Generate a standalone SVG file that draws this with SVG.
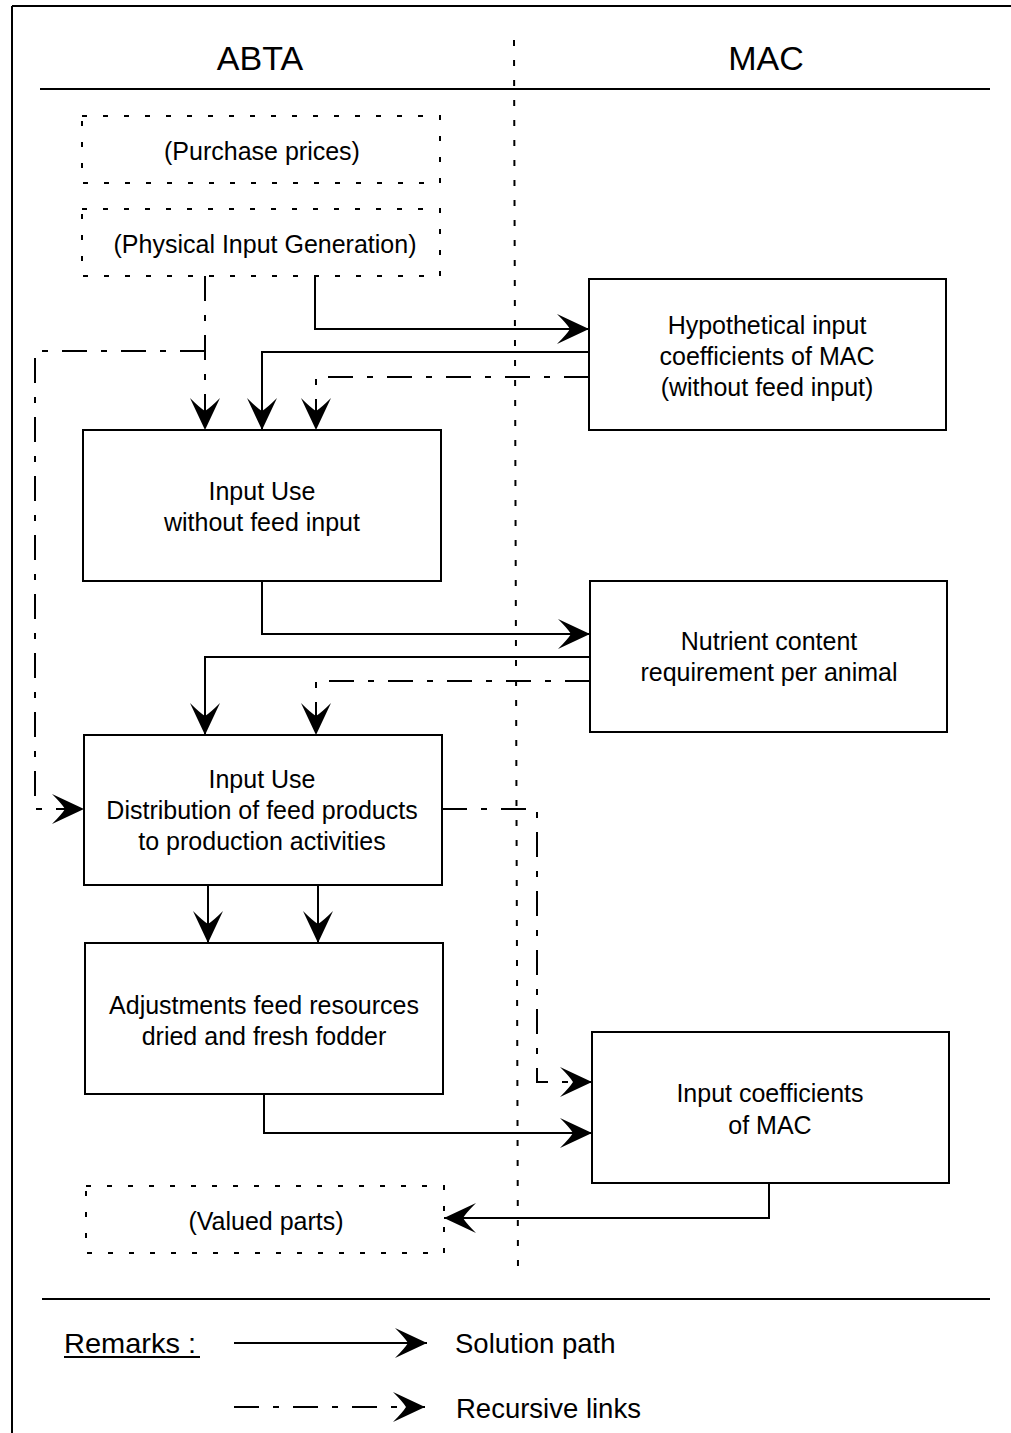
<svg xmlns="http://www.w3.org/2000/svg" width="1011" height="1433" viewBox="0 0 1011 1433">
  <style>
    text { font-family: "Liberation Sans", Arial, sans-serif; font-size: 25px; fill: #000; text-anchor: middle; }
    .frame { fill: none; stroke: #000; stroke-width: 2; }
    .box { fill: #fff; stroke: #000; stroke-width: 2; }
    .dotbox { fill: none; stroke: #000; stroke-width: 2; stroke-dasharray: 5 16; }
    .divider { fill: none; stroke: #000; stroke-width: 2; stroke-dasharray: 6 14; }
    .solid { fill: none; stroke: #000; stroke-width: 2; marker-end: url(#ah); }
    .rec { fill: none; stroke: #000; stroke-width: 2; stroke-dasharray: 25 14 6 14; marker-end: url(#ah); }
    .head { font-size: 34px; }
    .legend { font-size: 27.5px; text-anchor: start; }
  </style>
  <defs>
    <marker id="ah" viewBox="-34 -17 36 34" refX="0" refY="0" markerWidth="36" markerHeight="34" markerUnits="userSpaceOnUse" orient="auto">
      <path d="M0,0 L-32,-15 Q-22,-5 -19,0 Q-22,5 -32,15 Z" fill="#000"/>
    </marker>
  </defs>

  <rect width="1011" height="1433" fill="#fff"/>

  <!-- page frame, header rule, column divider, legend rule -->
  <g id="frame">
    <line class="frame" x1="12" y1="6" x2="1011" y2="6"/>
    <line class="frame" x1="12" y1="6" x2="12" y2="1433"/>
    <line class="frame" x1="40" y1="89" x2="990" y2="89"/>
    <line class="frame" x1="42" y1="1299" x2="990" y2="1299"/>
    <line class="divider" x1="514" y1="40" x2="518" y2="1275"/>
    <text class="head" x="260" y="70">ABTA</text>
    <text class="head" x="766" y="70">MAC</text>
  </g>

  <g id="connectors">
    <path class="solid" d="M315,276 V329 H589"/>
    <path class="solid" d="M589,352 H262 V430"/>
    <path class="rec" d="M589,377 H316 V430"/>
    <path class="rec" d="M205,276 V430"/>
    <path class="rec" d="M205,351 H35 V809 H84"/>
    <path class="solid" d="M262,581 V634 H590"/>
    <path class="solid" d="M590,657 H205 V735"/>
    <path class="rec" d="M590,681 H316 V735"/>
    <path class="solid" d="M208,885 V943"/>
    <path class="solid" d="M318,885 V943"/>
    <path class="rec" d="M442,809 H537 V1082 H592"/>
    <path class="solid" d="M264,1094 V1133 H592"/>
    <path class="solid" d="M769,1183 V1218 H444"/>
  </g>

  <g id="purchase-prices">
    <rect class="dotbox" x="82" y="116" width="358" height="67"/>
    <text x="262" y="160">(Purchase prices)</text>
  </g>

  <g id="physical-input">
    <rect class="dotbox" x="82" y="209" width="358" height="67"/>
    <text x="265" y="253">(Physical Input Generation)</text>
  </g>

  <g id="hypothetical-coefficients">
    <rect class="box" x="589" y="279" width="357" height="151"/>
    <text x="767" y="334">Hypothetical input</text>
    <text x="767" y="365">coefficients of MAC</text>
    <text x="767" y="396">(without feed input)</text>
  </g>

  <g id="input-use-no-feed">
    <rect class="box" x="83" y="430" width="358" height="151"/>
    <text x="262" y="500">Input Use</text>
    <text x="262" y="531">without feed input</text>
  </g>

  <g id="nutrient-content">
    <rect class="box" x="590" y="581" width="357" height="151"/>
    <text x="769" y="650">Nutrient content</text>
    <text x="769" y="681">requirement per animal</text>
  </g>

  <g id="feed-distribution">
    <rect class="box" x="84" y="735" width="358" height="150"/>
    <text x="262" y="788">Input Use</text>
    <text x="262" y="819">Distribution of feed products</text>
    <text x="262" y="850">to production activities</text>
  </g>

  <g id="feed-adjustments">
    <rect class="box" x="85" y="943" width="358" height="151"/>
    <text x="264" y="1014">Adjustments feed resources</text>
    <text x="264" y="1045">dried and fresh fodder</text>
  </g>

  <g id="input-coefficients">
    <rect class="box" x="592" y="1032" width="357" height="151"/>
    <text x="770" y="1102">Input coefficients</text>
    <text x="770" y="1134">of MAC</text>
  </g>

  <g id="valued-parts">
    <rect class="dotbox" x="86" y="1186" width="358" height="67"/>
    <text x="266" y="1230">(Valued parts)</text>
  </g>

  <g id="legend">
    <text class="legend" x="64" y="1353" textLength="132" lengthAdjust="spacingAndGlyphs">Remarks :</text>
    <line class="frame" x1="64" y1="1357" x2="200" y2="1357" stroke-width="1.5"/>
    <path class="solid" d="M234,1343 H427"/>
    <text class="legend" x="455" y="1353">Solution path</text>
    <path class="rec" d="M234,1407 H425"/>
    <text class="legend" x="456" y="1418">Recursive links</text>
  </g>
</svg>
